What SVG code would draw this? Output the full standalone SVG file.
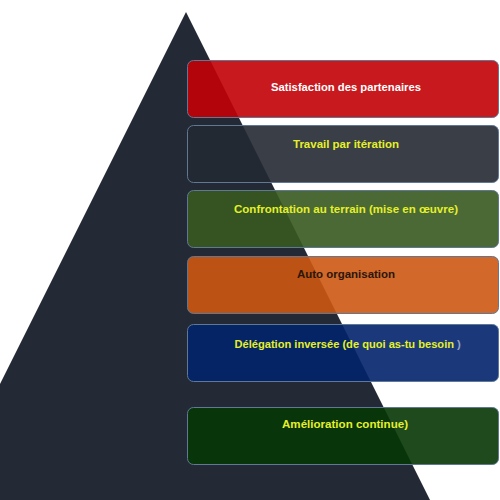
<svg xmlns="http://www.w3.org/2000/svg" width="500" height="500" viewBox="0 0 500 500">
<style>
.box{stroke:#5f7896;stroke-width:1;fill-opacity:0.9}
.t{font-family:"Liberation Sans","DejaVu Sans",sans-serif;font-weight:bold;font-size:11.5px;text-anchor:middle}
.y{fill:#e4f02a}
</style>
<rect width="500" height="500" fill="#ffffff"/>
<polygon id="pyramid" points="186,12 430,500 -58,500" fill="#232a35"/>
<g id="connectors"/>
<g id="n1"><rect class="box" x="187.5" y="60.5" width="311" height="57" rx="6" fill="#c20005"/>
<text class="t" x="346" y="91" fill="#ffffff" textLength="150" lengthAdjust="spacingAndGlyphs">Satisfaction des partenaires</text></g>
<g id="n2"><rect class="box" x="187.5" y="125.5" width="311" height="57" rx="6" fill="#242933"/>
<text class="t y" x="346" y="148" textLength="106" lengthAdjust="spacingAndGlyphs">Travail par itération</text></g>
<g id="n3"><rect class="box" x="187.5" y="190.5" width="311" height="57" rx="6" fill="#37591f"/>
<text class="t y" x="346" y="213" textLength="224" lengthAdjust="spacingAndGlyphs">Confrontation au terrain (mise en œuvre)</text></g>
<g id="n4"><rect class="box" x="187.5" y="256.5" width="311" height="57" rx="6" fill="#cd5812"/>
<text class="t" x="346" y="278" fill="#2b1609" textLength="98" lengthAdjust="spacingAndGlyphs">Auto organisation</text></g>
<g id="n5"><rect class="box" x="187.5" y="324.5" width="311" height="57" rx="6" fill="#02246b"/>
<text class="t y" x="454" y="348" style="font-size:11.1px;text-anchor:end">Délégation inversée (de quoi as-tu besoin</text>
<text class="t" x="457" y="348" fill="#c8cfe0" fill-opacity="0.7" style="text-anchor:start">)</text></g>
<g id="n6"><rect class="box" x="187.5" y="407.5" width="311" height="57" rx="6" fill="#053605"/>
<text class="t y" x="345" y="428" textLength="126" lengthAdjust="spacingAndGlyphs">Amélioration continue)</text></g>
</svg>
